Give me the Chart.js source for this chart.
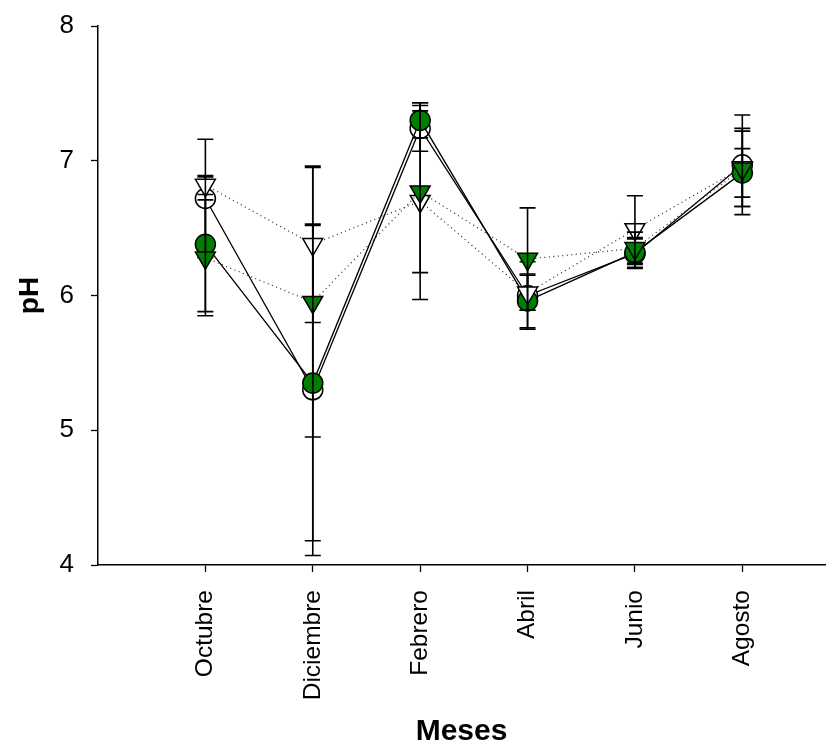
<!DOCTYPE html>
<html>
<head>
<meta charset="utf-8">
<script src="https://cdn.jsdelivr.net/npm/chart.js@4"></script>
<style>
  html, body { margin: 0; padding: 0; background: #fff; }
  #wrap { width: 838px; height: 750px; }
</style>
</head>
<body>
<div id="wrap"><canvas id="c" width="838" height="750"></canvas></div>
<script>
const months = ['Octubre', 'Diciembre', 'Febrero', 'Abril', 'Junio', 'Agosto'];
const yTicks = [4, 5, 6, 7, 8];

const openCircleMean = [6.72, 5.30, 7.24, 6.00, 6.31, 6.97];
const openCircleSD   = [0.44, 1.23, 0.17, 0.25, 0.11, 0.37];

const greenCircleMean = [6.38, 5.35, 7.30, 5.96, 6.32, 6.91];
const greenCircleSD   = [0.50, 1.17, 0.13, 0.20, 0.11, 0.18];

const openTriangleMean = [6.82, 6.38, 6.70, 6.02, 6.49, 6.95];
const openTriangleSD   = [0.07, 0.58, 0.73, 0.13, 0.25, 0.29];

const greenTriangleMean = [6.28, 5.95, 6.77, 6.27, 6.35, 6.94];
const greenTriangleSD   = [0.43, 1.00, 0.60, 0.38, 0.12, 0.28];

const GREEN = '#008000';
const FONT = "'Liberation Sans', Arial, sans-serif";

function pts(means) { return means.map((v, i) => ({ x: i + 1, y: v })); }

function makeSet(label, means, sds, style) {
  return Object.assign({
    label, data: pts(means), sd: sds,
    showLine: true,
    borderColor: '#000', borderWidth: 1.3,
    pointBorderColor: '#000', pointBorderWidth: 1.5,
    pointHoverRadius: 0
  }, style);
}

const datasets = [
  makeSet('Círculo abierto', openCircleMean, openCircleSD, {
    order: 3, pointStyle: 'circle', pointRadius: 10,
    pointBackgroundColor: '#fff'
  }),
  makeSet('Círculo verde', greenCircleMean, greenCircleSD, {
    order: 2, pointStyle: 'circle', pointRadius: 10,
    pointBackgroundColor: GREEN
  }),
  makeSet('Triángulo abierto', openTriangleMean, openTriangleSD, {
    order: 1, pointStyle: 'triangle', pointRadius: 11.5, pointRotation: 180,
    pointBackgroundColor: '#fff', borderColor: '#222', borderWidth: 1.2, borderDash: [1, 3.5]
  }),
  makeSet('Triángulo verde', greenTriangleMean, greenTriangleSD, {
    order: 0, pointStyle: 'triangle', pointRadius: 11.5, pointRotation: 180,
    pointBackgroundColor: GREEN, borderColor: '#222', borderWidth: 1.2, borderDash: [1, 3.5]
  })
];

const errorBars = {
  id: 'errorBars',
  afterDatasetDraw(chart, args) {
    const ds = chart.data.datasets[args.index];
    const ys = chart.scales.y;
    const ctx = chart.ctx;
    ctx.save();
    ctx.strokeStyle = '#000';
    ctx.lineWidth = 1.6;
    ctx.setLineDash([]);
    args.meta.data.forEach((el, i) => {
      const m = ds.data[i].y, s = ds.sd[i];
      const x = el.x;
      const yt = ys.getPixelForValue(m + s);
      const yb = ys.getPixelForValue(m - s);
      ctx.beginPath();
      ctx.moveTo(x, yt); ctx.lineTo(x, yb);
      ctx.moveTo(x - 8, yt); ctx.lineTo(x + 8, yt);
      ctx.moveTo(x - 8, yb); ctx.lineTo(x + 8, yb);
      ctx.stroke();
    });
    ctx.restore();
  }
};

function zeroPad(scale) {
  scale.paddingLeft = 0; scale.paddingRight = 0;
  scale.paddingTop = 0; scale.paddingBottom = 0;
}

new Chart(document.getElementById('c'), {
  type: 'scatter',
  data: { datasets },
  plugins: [errorBars],
  options: {
    responsive: false,
    animation: false,
    events: [],
    layout: { padding: { top: 26, right: 2, bottom: 0, left: 0 } },
    plugins: { legend: { display: false }, tooltip: { enabled: false } },
    scales: {
      x: {
        type: 'linear', min: 0, max: 6.77,
        afterBuildTicks(scale) { scale.ticks = months.map((m, i) => ({ value: i + 1 })); },
        afterFit(scale) { scale.height = 185; zeroPad(scale); },
        grid: { drawOnChartArea: false, drawTicks: true, tickLength: 7, tickColor: '#000', tickWidth: 1.3 },
        border: { display: true, color: '#000', width: 1.5 },
        ticks: {
          autoSkip: false, minRotation: 90, maxRotation: 90, padding: 18,
          color: '#000', font: { family: FONT, size: 24.5 },
          callback: (v) => months[v - 1] || ''
        },
        title: {
          display: true, text: 'Meses', color: '#000',
          font: { family: FONT, size: 30, weight: 'bold' },
          padding: { top: 0, bottom: 0 }
        }
      },
      y: {
        type: 'linear', min: 4, max: 8,
        afterBuildTicks(scale) { scale.ticks = yTicks.map(v => ({ value: v })); },
        afterFit(scale) { scale.width = 98; zeroPad(scale); },
        grid: { drawOnChartArea: false, drawTicks: true, tickLength: 7, tickColor: '#000', tickWidth: 1.3 },
        border: { display: true, color: '#000', width: 1.5 },
        ticks: {
          padding: 17, color: '#000', font: { family: FONT, size: 26 },
          callback: (v) => String(v)
        },
        title: {
          display: true, text: 'pH', color: '#000',
          font: { family: FONT, size: 28, weight: 'bold' },
          padding: { top: 13, bottom: 0 }
        }
      }
    }
  }
});
</script>
</body>
</html>
